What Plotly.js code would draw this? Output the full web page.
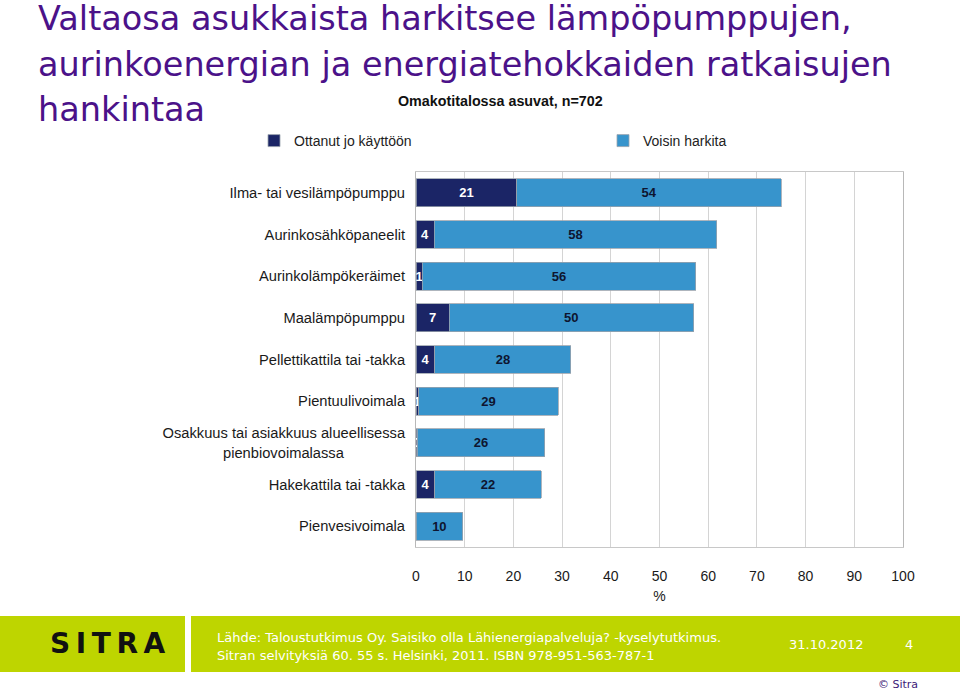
<!DOCTYPE html>
<html>
<head>
<meta charset="utf-8">
<script src="https://cdn.plot.ly/plotly-3.0.1.min.js"></script>
<style>
html,body{margin:0;padding:0;background:#fff;}
#chart{width:960px;height:692px;}
</style>
</head>
<body>
<div id="chart"></div>
<script>
// ---- data ----
var NB = "\u00a0";
var categories = [
  "Ilma- tai vesilämpöpumppu",
  "Aurinkosähköpaneelit",
  "Aurinkolämpökeräimet",
  "Maalämpöpumppu",
  "Pellettikattila tai -takka",
  "Pientuulivoimala",
  "Osakkuus tai asiakkuus alueellisessa<br>pienbiovoimalassa" + NB.repeat(15),
  "Hakekattila tai -takka",
  "Pienvesivoimala"
];
var seriesNames = ["Ottanut jo käyttöön", "Voisin harkita"];
var ottanut = [20.7, 3.7, 1.3, 6.8, 3.9, 0.6, 0.3, 3.9, 0];
var voisin  = [54.3, 58.1, 56.1, 50.2, 27.9, 28.6, 26.1, 21.8, 9.6];
var xTicks = [0, 10, 20, 30, 40, 50, 60, 70, 80, 90, 100];

var titleLines = [
  "Valtaosa asukkaista harkitsee lämpöpumppujen,",
  "aurinkoenergian ja energiatehokkaiden ratkaisujen",
  "hankintaa"
];
var subtitle = "Omakotitalossa asuvat, n=702";
var sourceLines = [
  "Lähde: Taloustutkimus Oy. Saisiko olla Lähienergiapalveluja? -kyselytutkimus.",
  "Sitran selvityksiä 60. 55 s. Helsinki, 2011. ISBN 978-951-563-787-1"
];
var dateText = "31.10.2012";
var pageNo = "4";
var logoText = "S\u2009I\u2009T\u2009R\u2009A";
var copyright = "© Sitra";

// ---- layout helpers (pixel -> paper) ----
var W = 960, H = 692;
var M = {l: 416, r: 57, t: 172, b: 145};
var PW = W - M.l - M.r, PH = H - M.t - M.b;
function px(x){ return (x - M.l) / PW; }
function py(y){ return (H - M.b - y) / PH; }

var FONT = "Liberation Sans, Arial, sans-serif";
var DARK = "#1B2566", LIGHT = "#3794CC";

var traces = [
  {
    type: "bar", orientation: "h", name: seriesNames[0],
    y: categories, x: ottanut,
    marker: {color: DARK, line: {color: "#9AA3AD", width: 0.8}},
    texttemplate: "%{x:.0f}", textposition: "inside", insidetextanchor: "middle",
    constraintext: "none", cliponaxis: false,
    insidetextfont: {family: FONT, size: 13, color: "#FFFFFF", weight: "bold"},
    hoverinfo: "x+y"
  },
  {
    type: "bar", orientation: "h", name: seriesNames[1],
    y: categories, x: voisin,
    marker: {color: LIGHT, line: {color: "#9AA3AD", width: 0.8}},
    texttemplate: "%{x:.0f}", textposition: "inside", insidetextanchor: "middle",
    constraintext: "none",
    insidetextfont: {family: FONT, size: 13, color: "#0E1530", weight: "bold"},
    hoverinfo: "x+y"
  }
];

var titleText = titleLines.map(function(t){
  return '<span style="font-size:33.5px">' + t + '</span>';
}).join("<br>");

var layout = {
  width: W, height: H,
  margin: M,
  paper_bgcolor: "#FFFFFF", plot_bgcolor: "#FFFFFF",
  barmode: "stack", bargap: 0.33,
  title: {
    text: titleText,
    font: {family: "DejaVu Sans, Verdana, sans-serif", size: 35, color: "#4B1289"},
    x: 38 / W, xanchor: "left", xref: "container",
    y: 1 - 30 / H, yanchor: "top", yref: "container",
    automargin: false
  },
  showlegend: true,
  legend: {
    orientation: "h", x: px(254), xanchor: "left", y: py(141), yanchor: "middle",
    entrywidth: 304, entrywidthmode: "pixels",
    font: {family: FONT, size: 14, color: "#222222"},
    bgcolor: "rgba(0,0,0,0)", traceorder: "normal"
  },
  xaxis: {
    range: [0, 100], tickvals: xTicks, ticktext: xTicks.map(String),
    showgrid: true, gridcolor: "#D4D4D4", gridwidth: 1,
    zeroline: false, showline: true, linecolor: "#C8C8C8", linewidth: 1, mirror: true,
    ticks: "", ticklabelstandoff: 16,
    tickfont: {family: FONT, size: 14, color: "#1A1A1A"},
    title: {text: "%", font: {family: FONT, size: 14, color: "#1A1A1A"}, standoff: 8},
    fixedrange: true
  },
  yaxis: {
    type: "category", autorange: "reversed",
    showgrid: false, zeroline: false, showline: true, linecolor: "#B8B8B8", linewidth: 1, mirror: true,
    ticks: "", ticklabelstandoff: 7,
    tickfont: {family: FONT, size: 14.7, color: "#1A1A1A"},
    fixedrange: true
  },
  shapes: [
    {type: "rect", xref: "paper", yref: "paper", layer: "below",
     x0: px(0), x1: px(185), y0: py(672), y1: py(616),
     fillcolor: "#BED500", line: {width: 0}},
    {type: "rect", xref: "paper", yref: "paper", layer: "below",
     x0: px(191), x1: px(960), y0: py(672), y1: py(616),
     fillcolor: "#BED500", line: {width: 0}}
  ],
  annotations: [
    {text: "<b>" + subtitle + "</b>", xref: "paper", yref: "paper",
     x: px(500), y: py(101), xanchor: "center", yanchor: "middle", showarrow: false,
     font: {family: FONT, size: 14.3, color: "#111111"}},
    {text: "<b>" + logoText + "</b>", xref: "paper", yref: "paper",
     x: px(108), y: py(643), xanchor: "center", yanchor: "middle", showarrow: false,
     font: {family: "DejaVu Sans, sans-serif", size: 28, color: "#111111"}},
    {text: sourceLines[0], xref: "paper", yref: "paper",
     x: px(215), y: py(637), xanchor: "left", yanchor: "middle", showarrow: false,
     font: {family: "DejaVu Sans, sans-serif", size: 13, color: "#FFFFFF"}},
    {text: sourceLines[1], xref: "paper", yref: "paper",
     x: px(215), y: py(655), xanchor: "left", yanchor: "middle", showarrow: false,
     font: {family: "DejaVu Sans, sans-serif", size: 13, color: "#FFFFFF"}},
    {text: dateText, xref: "paper", yref: "paper",
     x: px(826), y: py(644), xanchor: "center", yanchor: "middle", showarrow: false,
     font: {family: "DejaVu Sans, sans-serif", size: 13, color: "#FFFFFF"}},
    {text: pageNo, xref: "paper", yref: "paper",
     x: px(909), y: py(644), xanchor: "center", yanchor: "middle", showarrow: false,
     font: {family: "DejaVu Sans, sans-serif", size: 13, color: "#FFFFFF"}},
    {text: copyright, xref: "paper", yref: "paper",
     x: px(898), y: py(684), xanchor: "center", yanchor: "middle", showarrow: false,
     font: {family: "DejaVu Sans, sans-serif", size: 11, color: "#3D1A78"}}
  ]
};

Plotly.newPlot("chart", traces, layout, {displayModeBar: false, staticPlot: true});
</script>
</body>
</html>
